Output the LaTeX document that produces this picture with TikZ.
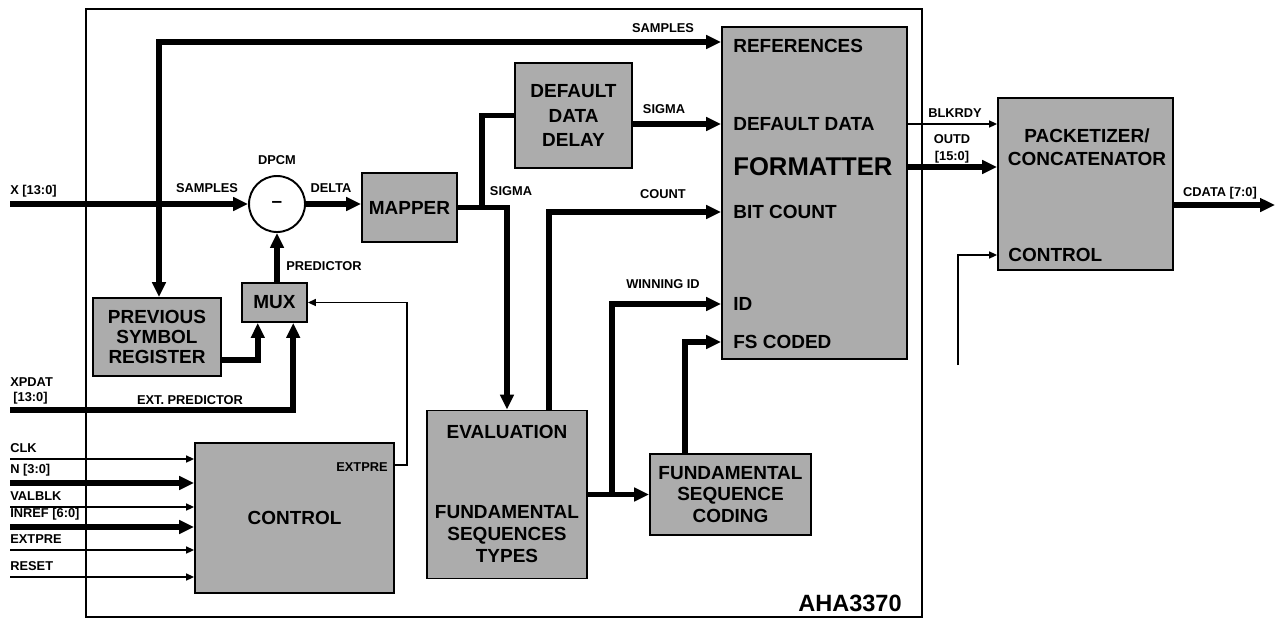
\documentclass[tikz,border=0pt]{standalone}
\usepackage{fontspec}
\setmainfont{Liberation Sans}
\usetikzlibrary{arrows.meta, calc, positioning}

\begin{document}
\begin{tikzpicture}[x=0.02cm, y=-0.02cm,
    blk/.style={draw, line width=1.1pt, fill=gray!65, inner sep=0pt, align=center, font=\bfseries\fontsize{10.8}{12}\selectfont},
    txt/.style={inner sep=0pt, align=center, font=\bfseries\fontsize{10.8}{12.5}\selectfont},
    lbl/.style={inner sep=0pt, align=center, font=\bfseries\fontsize{7.3}{8.5}\selectfont},
    bus/.style={line width=3.2pt, >={Triangle[length=8.5pt,width=7.5pt]}},
    sig/.style={line width=0.8pt, >={Triangle[length=4.5pt,width=4pt]}}]

    \useasboundingbox (0,0) rectangle (1277,626);
    \draw[line width=0.8pt] (86,9) rectangle (922,617);

    % blocks
    \node[draw, circle, line width=1.1pt, fill=white, minimum size=1.12cm, inner sep=0pt, font=\bfseries\fontsize{10.8}{12}\selectfont] (dpcm) at (277,204) {\textendash};
    \node[blk, minimum width=1.9cm, minimum height=1.38cm] (mapper) at (409.5,207.5) {MAPPER};
    \node[blk, minimum width=2.34cm, minimum height=2.1cm, font=\bfseries\fontsize{10.8}{13.9}\selectfont] (ddd) at (573.5,115.5) {DEFAULT\\DATA\\DELAY};
    \node[blk, minimum width=3.7cm, minimum height=6.64cm] (fmt) at (814.5,193) {};
    \node[blk, minimum width=2.56cm, minimum height=1.56cm, font=\bfseries\fontsize{10.8}{11.6}\selectfont] (psr) at (157,337) {PREVIOUS\\SYMBOL\\REGISTER};
    \node[blk, minimum width=1.3cm, minimum height=0.78cm] (mux) at (274.5,302.5) {MUX};
    \node[blk, minimum width=3.98cm, minimum height=3cm] (ctrl) at (294.5,518) {CONTROL};
    \node[blk, minimum width=3.2cm, minimum height=3.36cm] (eval) at (507,494.5) {};
    \node[blk, minimum width=3.22cm, minimum height=1.62cm] (fsc) at (730.5,494.5) {FUNDAMENTAL\\SEQUENCE\\CODING};
    \node[blk, minimum width=3.5cm, minimum height=3.44cm] (pack) at (1085.5,184) {};

    % texts inside the big blocks
    \node[txt, anchor=west] (fref) at (733,46) {REFERENCES};
    \node[txt, anchor=west] (fdef) at (733,124) {DEFAULT DATA};
    \node[txt, anchor=west, font=\bfseries\fontsize{14.6}{16}\selectfont] (ftitle) at (733,167) {FORMATTER};
    \node[txt, anchor=west] (fbit) at (733,212) {BIT COUNT};
    \node[txt, anchor=west] (fid) at (733,304) {ID};
    \node[txt, anchor=west] (ffs) at (733,342) {FS CODED};
    \node[txt] (evtop) at (507,432) {EVALUATION};
    \node[txt] (evbot) at (507,534) {FUNDAMENTAL\\SEQUENCES\\TYPES};
    \node[txt, font=\bfseries\fontsize{10.8}{13}\selectfont] (ptitle) at (1087,147) {PACKETIZER/\\CONCATENATOR};
    \node[txt, anchor=west] (pctl) at (1008,255) {CONTROL};
    \node[lbl] (cext) at (362,467) {EXTPRE};
    \node[inner sep=0pt, font=\bfseries\fontsize{13.4}{15}\selectfont] (chip) at (850,603) {AHA3370};

    % data path
    \coordinate (xin) at (10,204);
    \draw[bus,->] (xin) -- (dpcm.west);
    \draw[bus,<->] (psr.north -| 159,0) |- (fmt.west |- 0,42);
    \draw[bus,->] (dpcm.east) -- (mapper.west |- dpcm.east);
    \draw[bus,->] (mux.north -| dpcm) -- (dpcm.south);
    \draw[bus,->] (psr.east |- 0,360) -| ($(mux.south west)!0.25!(mux.south east)$);
    \coordinate (xpin) at (10,410);
    \draw[bus,->] (xpin) -| ($(mux.south west)!0.78!(mux.south east)$);
    \draw[sig,->] (ctrl.east |- 0,465) -- (407,465) |- (mux.east);
    \coordinate (mj) at (482,207.5);
    \draw[bus] (mapper.east) -- (mj) |- (ddd.west);
    \draw[bus,->] (mj) -| (eval.north);
    \draw[bus,->] (ddd.east |- fdef) -- (fmt.west |- fdef);
    \draw[bus,->] ($(eval.north west)!0.76!(eval.north east)$) |- (fmt.west |- fbit);
    \draw[bus,->] (eval.east) -- (fsc.west);
    \draw[bus,->] (612,0 |- eval.east) |- (fmt.west |- fid);
    \draw[bus,->] ($(fsc.north west)!0.22!(fsc.north east)$) |- (fmt.west |- ffs);
    \draw[sig,->] (fmt.east |- fdef) -- (pack.west |- fdef);
    \draw[bus,->] (fmt.east |- ftitle) -- (pack.west |- ftitle);
    \coordinate (cout) at (1275,205);
    \draw[bus,->] (pack.east |- cout) -- (cout);
    \coordinate (pcin) at (958,365);
    \draw[sig,->] (pcin) |- (pack.west |- pctl);

    % control inputs
    \foreach \yy/\name/\kind in {459/CLK/sig, 483/{N [3:0]}/bus, 507/VALBLK/sig, 527/{INREF [6:0]}/bus, 550/EXTPRE/sig, 577/RESET/sig} {
        \node[lbl, anchor=south west] (in-\yy) at (10,\yy-6) {\name};
        \draw[\kind,->] (10,\yy) -- (ctrl.west |- 0,\yy);
    }

    % signal labels
    \node[lbl, anchor=south west] (xlbl) at (10,198) {X [13:0]};
    \node[lbl] (smp1) at (207,188) {SAMPLES};
    \node[lbl] (smp2) at (663,28) {SAMPLES};
    \node[lbl] (dpcmlbl) at (277,160) {DPCM};
    \node[lbl] (delta) at (331,188) {DELTA};
    \node[lbl] (pred) at (324,266) {PREDICTOR};
    \node[lbl, anchor=west] (xplbl) at (10,382) {XPDAT};
    \node[lbl, anchor=west] (xpw) at (13,398) {[13:0]};
    \node[lbl] (extp) at (190,400) {EXT. PREDICTOR};
    \node[lbl] (sig1) at (511,191) {SIGMA};
    \node[lbl] (sig2) at (664,109) {SIGMA};
    \node[lbl] (cnt) at (663,194) {COUNT};
    \node[lbl] (win) at (663,284) {WINNING ID};
    \node[lbl] (blk) at (955,113) {BLKRDY};
    \node[lbl] (outd) at (952,149) {OUTD\\[1pt][15:0]};
    \node[lbl] (cdat) at (1220,193) {CDATA [7:0]};
\end{tikzpicture}
\end{document}
